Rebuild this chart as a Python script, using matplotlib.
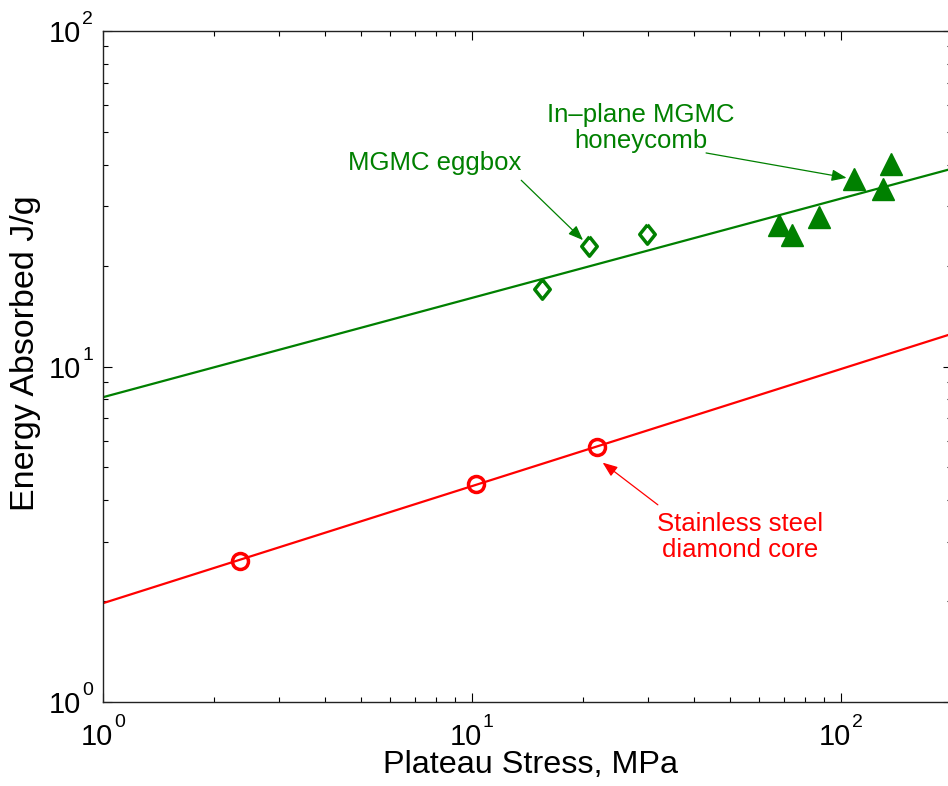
import numpy as np
import matplotlib
matplotlib.use("Agg")
import matplotlib.pyplot as plt
from matplotlib.ticker import LogLocator, NullFormatter

plt.rcParams['font.family'] = ['Liberation Sans', 'DejaVu Sans']

# ---- data ----
steel_stress = [2.35, 10.25, 21.8]
steel_energy = [2.63, 4.46, 5.75]

eggbox_stress = [15.5, 20.7, 29.8]
eggbox_energy = [17.0, 22.9, 24.9]

honey_stress = [68.0, 73.8, 87.2, 108.2, 130.2, 136.4]
honey_energy = [26.4, 24.6, 27.9, 36.1, 33.8, 40.2]

# power-law fit lines  E = a * s^b
steel_fit = (1.97, 0.349)
mgmc_fit = (8.1, 0.296)

xlim = (1, 200)
ylim = (1, 100)
x_decades = [0, 1, 2]
y_decades = [0, 1, 2]

GREEN = '#008000'
RED = '#ff0000'

fig = plt.figure(figsize=(9.48, 7.86), dpi=100)
ax = fig.add_axes([103/948, 84/786, (952-103)/948, (702-31)/786])
ax.set_xscale('log')
ax.set_yscale('log')
ax.set_xlim(*xlim)
ax.set_ylim(*ylim)

xs = np.logspace(np.log10(xlim[0]), np.log10(xlim[1]), 200)
ax.plot(xs, mgmc_fit[0] * xs ** mgmc_fit[1], color=GREEN, lw=1.6, zorder=2)
ax.plot(xs, steel_fit[0] * xs ** steel_fit[1], color=RED, lw=1.6, zorder=2)

diamond = [(0, 1), (0.8, 0), (0, -1), (-0.8, 0), (0, 1)]
ax.plot(eggbox_stress, eggbox_energy, linestyle='none', marker=diamond,
        ms=14, mfc='none', mec=GREEN, mew=2.5, zorder=3)
ax.plot(honey_stress, honey_energy, linestyle='none', marker='^',
        ms=16, mfc=GREEN, mec=GREEN, mew=1, zorder=3)
ax.plot(steel_stress, steel_energy, linestyle='none', marker='o',
        ms=11.5, mfc='none', mec=RED, mew=2.5, zorder=3)

# annotations
fs_ann = 18.5
arrow_style = '-|>,head_length=0.9,head_width=0.35'
ax.text(7.94, 40.4, 'MGMC eggbox', color=GREEN, fontsize=fs_ann,
        ha='center', va='center')
ax.annotate('', xy=(20.0, 23.8), xytext=(13.6, 35.9),
            arrowprops=dict(arrowstyle=arrow_style,
                            color=GREEN, lw=0.9, shrinkA=0, shrinkB=0))
ax.text(28.7, 51.4, 'In\u2013plane MGMC\nhoneycomb', color=GREEN, fontsize=fs_ann,
        ha='center', va='center', linespacing=1.1)
ax.annotate('', xy=(103.6, 36.5), xytext=(43.1, 43.3),
            arrowprops=dict(arrowstyle=arrow_style,
                            color=GREEN, lw=0.9, shrinkA=0, shrinkB=0))
ax.text(53.2, 3.10, 'Stainless steel\ndiamond core', color=RED, fontsize=fs_ann,
        ha='center', va='center', linespacing=1.1)
ax.annotate('', xy=(22.6, 5.17), xytext=(31.9, 3.87),
            arrowprops=dict(arrowstyle=arrow_style,
                            color=RED, lw=0.9, shrinkA=0, shrinkB=0))

# axis labels
ax.set_xlabel('Plateau Stress, MPa', fontsize=23.3)
ax.set_ylabel('Energy Absorbed J/g', fontsize=24.5)
ax.xaxis.set_label_coords(0.504, -0.071)
ax.yaxis.set_label_coords(-0.073, 0.52)

# ticks
ax.xaxis.set_major_locator(LogLocator(base=10, numticks=10))
ax.yaxis.set_major_locator(LogLocator(base=10, numticks=10))
ax.xaxis.set_minor_locator(LogLocator(base=10, subs=np.arange(2, 10), numticks=20))
ax.yaxis.set_minor_locator(LogLocator(base=10, subs=np.arange(2, 10), numticks=20))
ax.xaxis.set_minor_formatter(NullFormatter())
ax.yaxis.set_minor_formatter(NullFormatter())
ax.xaxis.set_major_formatter(NullFormatter())
ax.yaxis.set_major_formatter(NullFormatter())
ax.tick_params(which='both', direction='in', top=True, right=True, width=0.8)
ax.tick_params(which='major', length=6.5)
ax.tick_params(which='minor', length=3.3)
for s in ax.spines.values():
    s.set_linewidth(1.0)
    s.set_color('#222222')

# MATLAB-style tick labels: "10" with a raised exponent
fs_tick = 21
fs_exp = 14
for d in x_decades:
    ax.annotate('10', xy=(10.0 ** d, 0), xycoords=('data', 'axes fraction'),
                xytext=(-6, -43), textcoords='offset pixels',
                ha='center', va='baseline', fontsize=fs_tick, annotation_clip=False)
    ax.annotate(str(d), xy=(10.0 ** d, 0), xycoords=('data', 'axes fraction'),
                xytext=(11, -25), textcoords='offset pixels',
                ha='left', va='baseline', fontsize=fs_exp, annotation_clip=False)
for d in y_decades:
    ax.annotate('10', xy=(0, 10.0 ** d), xycoords=('axes fraction', 'data'),
                xytext=(-22, -11), textcoords='offset pixels',
                ha='right', va='baseline', fontsize=fs_tick, annotation_clip=False)
    ax.annotate(str(d), xy=(0, 10.0 ** d), xycoords=('axes fraction', 'data'),
                xytext=(-21, 7), textcoords='offset pixels',
                ha='left', va='baseline', fontsize=fs_exp, annotation_clip=False)

fig.savefig('out.png', dpi=100)
